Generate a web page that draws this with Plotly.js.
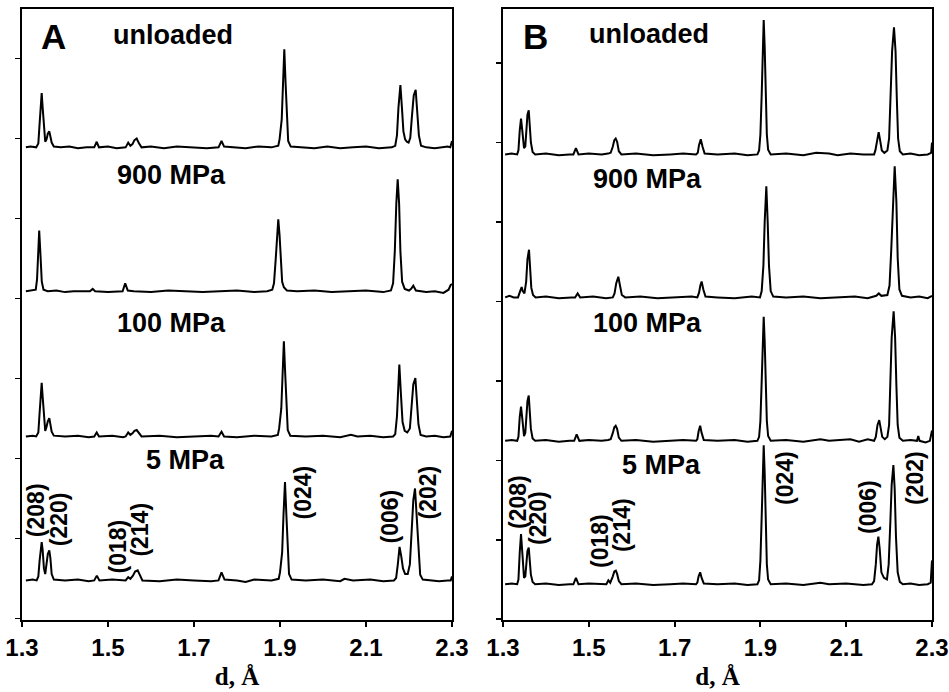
<!DOCTYPE html>
<html>
<head>
<meta charset="utf-8">
<script src="https://cdn.plot.ly/plotly-3.0.1.min.js"></script>
<style>html,body{margin:0;padding:0;background:#fff}#chart{width:949px;height:692px}</style>
</head>
<body>
<div id="chart"></div>
<script>
// ---------------- DATA ----------------
const pressureLabels = ["unloaded", "900 MPa", "100 MPa", "5 MPa"];
const panelLabels = ["A", "B"];
const millerLabels = ["(208)", "(220)", "(018)", "(214)", "(024)", "(006)", "(202)"];
const xTickVals = [1.3, 1.5, 1.7, 1.9, 2.1, 2.3];
const xTickText = ["1.3", "1.5", "1.7", "1.9", "2.1", "2.3"];
const xTitle = "d, Å";

// vertical offsets of each pattern (unloaded, 900, 100, 5 MPa)
const offsetsA = [5.89, 4.09, 2.275, 0.475];
const offsetsB = [5.85, 4.05, 2.245, 0.44];

// ---- Panel A ----
const aUnloadedX = [1.309,1.320,1.333,1.338,1.341,1.3435,1.3458,1.348,1.351,1.354,1.357,1.360,1.3635,1.366,1.369,1.374,1.390,1.410,1.430,1.450,1.468,1.4737,1.479,1.500,1.520,1.541,1.547,1.552,1.557,1.5615,1.5667,1.572,1.578,1.600,1.630,1.660,1.700,1.730,1.757,1.764,1.770,1.790,1.820,1.850,1.880,1.896,1.899,1.904,1.907,1.910,1.913,1.916,1.919,1.925,1.950,1.980,2.010,2.040,2.070,2.100,2.130,2.160,2.168,2.172,2.1755,2.180,2.1835,2.187,2.191,2.195,2.199,2.203,2.207,2.211,2.2155,2.219,2.223,2.228,2.240,2.260,2.280,2.290,2.296,2.300];
const aUnloadedY = [0.00,0.01,0.00,0.05,0.30,0.55,0.68,0.50,0.20,0.07,0.10,0.17,0.20,0.15,0.06,0.01,0.00,0.01,-0.01,0.00,0.00,0.07,0.00,0.01,-0.01,0.00,0.06,0.02,0.04,0.09,0.11,0.05,0.00,0.01,-0.01,0.01,0.00,-0.01,0.00,0.08,0.01,0.00,-0.01,0.01,0.00,0.02,0.10,0.35,0.80,1.225,0.80,0.30,0.08,0.01,0.00,-0.01,0.01,-0.01,0.00,0.01,-0.01,0.00,0.02,0.15,0.50,0.78,0.50,0.20,0.10,0.07,0.06,0.12,0.40,0.65,0.72,0.50,0.15,0.02,0.00,-0.01,0.00,0.01,0.00,0.08];

const a900X = [1.309,1.325,1.332,1.335,1.337,1.340,1.343,1.346,1.350,1.360,1.380,1.400,1.420,1.440,1.458,1.4644,1.470,1.500,1.520,1.534,1.540,1.546,1.560,1.600,1.640,1.680,1.720,1.760,1.800,1.840,1.870,1.882,1.886,1.890,1.893,1.896,1.899,1.902,1.905,1.909,1.916,1.940,1.980,2.020,2.060,2.100,2.140,2.158,2.163,2.167,2.1705,2.1737,2.177,2.180,2.184,2.190,2.200,2.205,2.210,2.216,2.240,2.260,2.280,2.292,2.297,2.300];
const a900Y = [0.00,0.01,0.02,0.15,0.45,0.76,0.45,0.12,0.02,0.00,0.01,-0.01,0.00,0.00,0.00,0.03,0.00,-0.01,0.00,0.00,0.10,0.01,0.00,-0.01,0.01,0.00,-0.01,0.00,0.01,-0.01,0.00,0.02,0.10,0.40,0.72,0.90,0.70,0.35,0.12,0.05,0.01,0.00,0.01,-0.01,0.00,0.01,-0.01,0.01,0.10,0.50,1.10,1.40,1.10,0.50,0.12,0.03,0.01,0.03,0.07,0.01,-0.01,0.00,-0.02,0.02,0.08,0.09];

const a100X = [1.309,1.325,1.333,1.338,1.341,1.3435,1.3458,1.348,1.351,1.354,1.357,1.360,1.3635,1.366,1.369,1.374,1.400,1.430,1.455,1.468,1.4737,1.479,1.510,1.535,1.541,1.547,1.552,1.557,1.5615,1.5667,1.572,1.578,1.620,1.660,1.700,1.740,1.757,1.764,1.770,1.800,1.840,1.880,1.895,1.898,1.903,1.906,1.909,1.912,1.915,1.918,1.924,1.960,2.000,2.040,2.065,2.080,2.110,2.140,2.163,2.168,2.172,2.1745,2.1775,2.181,2.185,2.190,2.196,2.202,2.206,2.210,2.2148,2.218,2.222,2.227,2.240,2.260,2.280,2.296,2.300];
const a100Y = [0.00,0.01,0.00,0.05,0.30,0.55,0.67,0.50,0.20,0.07,0.12,0.19,0.23,0.16,0.06,0.01,0.00,0.01,-0.01,0.00,0.05,0.00,0.01,-0.01,0.00,0.05,0.02,0.04,0.07,0.08,0.04,0.00,0.01,-0.01,0.00,0.01,0.00,0.06,0.00,-0.01,0.01,0.00,0.02,0.10,0.35,0.80,1.19,0.80,0.30,0.08,0.01,0.00,0.01,-0.01,0.02,0.00,0.01,-0.01,0.00,0.03,0.25,0.65,0.90,0.55,0.18,0.07,0.05,0.10,0.40,0.65,0.73,0.50,0.15,0.02,0.00,0.01,-0.01,0.00,0.07];

const a5X = [1.309,1.325,1.334,1.338,1.341,1.3435,1.3458,1.348,1.351,1.354,1.357,1.360,1.3635,1.366,1.369,1.374,1.400,1.430,1.455,1.468,1.474,1.480,1.510,1.535,1.541,1.547,1.552,1.558,1.563,1.569,1.574,1.580,1.620,1.660,1.700,1.740,1.757,1.764,1.771,1.800,1.820,1.840,1.880,1.897,1.900,1.905,1.908,1.9116,1.915,1.918,1.921,1.927,1.960,2.000,2.040,2.050,2.070,2.110,2.140,2.165,2.170,2.174,2.178,2.182,2.186,2.191,2.197,2.202,2.206,2.210,2.214,2.218,2.222,2.226,2.232,2.250,2.270,2.290,2.297,2.300];
const a5Y = [0.00,0.01,0.00,0.05,0.25,0.42,0.48,0.38,0.15,0.08,0.20,0.33,0.375,0.28,0.08,0.01,0.00,0.01,-0.01,0.00,0.06,0.00,0.01,0.00,0.00,0.04,0.02,0.06,0.11,0.125,0.06,0.00,-0.01,0.01,0.00,-0.01,0.00,0.10,0.01,0.00,-0.02,0.01,0.00,0.02,0.10,0.35,0.80,1.23,0.80,0.30,0.08,0.01,0.00,0.01,-0.01,0.02,0.00,0.01,-0.01,0.00,0.03,0.20,0.42,0.30,0.15,0.08,0.08,0.20,0.60,1.00,1.15,0.80,0.30,0.07,0.01,0.00,-0.01,0.00,0.00,0.05];

// ---- Panel B ----
const bUnloadedX = [1.305,1.320,1.333,1.336,1.339,1.342,1.345,1.349,1.352,1.355,1.357,1.360,1.362,1.365,1.369,1.375,1.400,1.430,1.455,1.464,1.470,1.476,1.500,1.530,1.545,1.551,1.556,1.5595,1.5627,1.566,1.570,1.576,1.610,1.650,1.690,1.720,1.750,1.754,1.757,1.761,1.765,1.770,1.800,1.840,1.870,1.893,1.897,1.900,1.903,1.9055,1.9077,1.910,1.912,1.915,1.918,1.924,1.960,2.000,2.030,2.060,2.080,2.110,2.140,2.165,2.168,2.172,2.1757,2.179,2.183,2.189,2.196,2.200,2.204,2.207,2.2114,2.215,2.218,2.221,2.225,2.232,2.250,2.270,2.290,2.298,2.300];
const bUnloadedY = [0.00,0.01,0.00,0.05,0.30,0.45,0.30,0.08,0.10,0.35,0.50,0.555,0.40,0.15,0.03,0.00,0.01,-0.01,0.00,0.00,0.08,0.00,0.01,0.00,0.01,0.02,0.10,0.18,0.20,0.16,0.04,0.00,0.01,-0.01,0.00,0.01,0.00,0.02,0.12,0.19,0.10,0.01,0.00,0.01,-0.01,0.00,0.05,0.25,0.75,1.35,1.69,1.35,0.75,0.25,0.06,0.00,0.01,-0.01,0.02,0.01,-0.01,0.01,0.00,0.00,0.05,0.20,0.28,0.18,0.05,0.02,0.05,0.20,0.80,1.30,1.60,1.30,0.70,0.20,0.04,0.00,0.01,-0.01,0.00,0.02,0.15];

const b900X = [1.305,1.315,1.325,1.335,1.340,1.3435,1.346,1.350,1.354,1.357,1.3606,1.363,1.366,1.370,1.376,1.400,1.430,1.460,1.468,1.474,1.480,1.510,1.540,1.556,1.560,1.564,1.5688,1.573,1.577,1.585,1.620,1.660,1.700,1.740,1.753,1.757,1.760,1.763,1.767,1.772,1.800,1.840,1.880,1.899,1.903,1.907,1.910,1.9138,1.917,1.920,1.924,1.930,1.960,2.000,2.040,2.080,2.120,2.150,2.170,2.176,2.182,2.196,2.201,2.205,2.209,2.213,2.217,2.220,2.224,2.230,2.250,2.270,2.290,2.300];
const b900Y = [0.00,0.02,0.00,0.00,0.08,0.13,0.08,0.05,0.20,0.48,0.60,0.40,0.12,0.03,0.00,0.01,-0.01,0.00,0.00,0.05,0.00,0.01,-0.01,0.00,0.05,0.18,0.26,0.14,0.03,0.00,0.01,-0.01,0.00,0.01,0.00,0.06,0.15,0.20,0.10,0.01,0.00,-0.01,0.01,0.00,0.08,0.40,0.95,1.40,0.95,0.40,0.08,0.01,0.00,0.01,-0.01,0.00,0.01,-0.01,0.02,0.05,0.02,0.03,0.15,0.60,1.25,1.65,1.20,0.50,0.10,0.02,0.00,0.01,-0.01,0.02];

const b100X = [1.305,1.320,1.333,1.336,1.339,1.342,1.345,1.349,1.352,1.355,1.357,1.360,1.362,1.365,1.369,1.375,1.400,1.430,1.455,1.466,1.4717,1.478,1.500,1.530,1.545,1.551,1.556,1.5595,1.5627,1.566,1.570,1.576,1.610,1.650,1.690,1.720,1.750,1.753,1.756,1.7596,1.763,1.768,1.800,1.840,1.870,1.893,1.897,1.900,1.903,1.9055,1.9077,1.910,1.912,1.915,1.918,1.924,1.960,2.000,2.040,2.060,2.110,2.130,2.150,2.165,2.169,2.173,2.177,2.180,2.184,2.190,2.196,2.200,2.203,2.206,2.2106,2.214,2.217,2.220,2.224,2.232,2.250,2.265,2.268,2.271,2.285,2.295,2.300];
const b100Y = [0.00,0.01,0.00,0.05,0.30,0.43,0.28,0.06,0.10,0.35,0.50,0.57,0.40,0.15,0.03,0.00,0.01,-0.01,0.00,0.00,0.08,0.00,0.01,0.00,0.01,0.02,0.10,0.17,0.19,0.15,0.04,0.00,0.01,-0.01,0.00,0.01,0.00,0.02,0.12,0.19,0.10,0.01,0.00,0.01,-0.01,0.00,0.05,0.25,0.75,1.25,1.56,1.25,0.75,0.25,0.06,0.00,0.01,-0.01,0.02,0.00,0.02,-0.01,0.02,0.00,0.05,0.20,0.26,0.18,0.05,0.02,0.05,0.20,0.80,1.30,1.63,1.30,0.70,0.20,0.04,0.00,0.01,0.00,0.06,0.00,-0.02,0.00,0.13];

const b5X = [1.305,1.320,1.333,1.336,1.339,1.342,1.345,1.349,1.352,1.355,1.357,1.360,1.362,1.365,1.369,1.375,1.400,1.430,1.455,1.464,1.470,1.476,1.500,1.530,1.541,1.5456,1.550,1.556,1.5595,1.563,1.566,1.570,1.576,1.610,1.650,1.690,1.720,1.750,1.753,1.756,1.7596,1.763,1.768,1.800,1.840,1.870,1.893,1.897,1.900,1.903,1.9055,1.9077,1.910,1.912,1.915,1.918,1.924,1.960,2.000,2.040,2.060,2.100,2.140,2.160,2.165,2.169,2.172,2.175,2.178,2.182,2.188,2.195,2.199,2.203,2.206,2.210,2.213,2.216,2.220,2.225,2.232,2.250,2.270,2.290,2.297,2.300];
const b5Y = [0.00,0.01,0.00,0.06,0.40,0.63,0.40,0.08,0.10,0.30,0.42,0.46,0.33,0.12,0.03,0.00,0.01,-0.01,0.00,0.00,0.08,0.00,0.01,0.00,0.00,0.05,0.02,0.10,0.16,0.17,0.13,0.04,0.00,0.01,-0.01,0.00,0.01,0.00,0.02,0.10,0.15,0.08,0.01,0.00,0.01,-0.01,0.00,0.05,0.30,0.85,1.40,1.75,1.40,0.80,0.25,0.06,0.00,0.01,-0.01,0.02,0.00,0.01,-0.01,0.00,0.04,0.25,0.50,0.60,0.45,0.15,0.08,0.06,0.25,0.80,1.25,1.50,1.20,0.60,0.15,0.03,0.00,0.01,-0.01,0.00,0.02,0.30];

// ---------------- CHART ----------------
const seriesA = [[aUnloadedX, aUnloadedY], [a900X, a900Y], [a100X, a100Y], [a5X, a5Y]];
const seriesB = [[bUnloadedX, bUnloadedY], [b900X, b900Y], [b100X, b100Y], [b5X, b5Y]];

const lineStyle = {color: "#000", width: 2};
const traces = [];
seriesA.forEach((s, i) => {
  traces.push({x: s[0], y: s[1].map(v => v + offsetsA[i]), type: "scatter", mode: "lines",
    line: lineStyle, xaxis: "x", yaxis: "y", hoverinfo: "skip", name: "A " + pressureLabels[i]});
});
seriesB.forEach((s, i) => {
  traces.push({x: s[0], y: s[1].map(v => v + offsetsB[i]), type: "scatter", mode: "lines",
    line: lineStyle, xaxis: "x2", yaxis: "y2", hoverinfo: "skip", name: "B " + pressureLabels[i]});
});

const FONT = "Liberation Sans, Arial, sans-serif";
const SERIF = "Liberation Serif, Times New Roman, serif";
const W = 949, H = 692;

function xAxisCfg(domain, anchor) {
  return {
    domain: domain, anchor: anchor, range: [1.3, 2.3],
    showline: true, mirror: true, linecolor: "#000", linewidth: 2,
    ticks: "outside", ticklen: 5, tickwidth: 2, tickcolor: "#000",
    tickvals: xTickVals, ticktext: xTickText,
    tickfont: {family: FONT, size: 24, color: "#000", weight: "bold"},
    showgrid: false, zeroline: false,
    title: {text: xTitle, font: {family: SERIF, size: 25, color: "#000", weight: "bold"}, standoff: 8}
  };
}
function yAxisCfg(range, anchor) {
  return {
    domain: [(H - 620) / H, (H - 9) / H], anchor: anchor, range: range,
    showline: true, mirror: true, linecolor: "#000", linewidth: 2,
    ticks: "outside", ticklen: 5, tickwidth: 1.5, tickcolor: "#000",
    tick0: 0, dtick: 1, showticklabels: false,
    showgrid: false, zeroline: false
  };
}

const annotations = [];
function txt(text, x, y, xref, yref, size, angle) {
  annotations.push({text: text, x: x, y: y, xref: xref, yref: yref, showarrow: false,
    xanchor: "center", yanchor: "middle", textangle: angle || 0,
    font: {family: FONT, size: size, color: "#000", weight: "bold"}});
}
// panel letters
txt(panelLabels[0], 1.3744, 7.28, "x", "y", 35);
txt(panelLabels[1], 1.3746, 7.33, "x2", "y2", 35);
// pressure labels
const presPosA = [[1.651, 7.30], [1.6465, 5.54], [1.6465, 3.69], [1.681, 1.975]];
const presPosB = [[1.6392, 7.36], [1.6357, 5.54], [1.6357, 3.73], [1.6695, 1.94]];
pressureLabels.forEach((t, i) => {
  txt(t, presPosA[i][0], presPosA[i][1], "x", "y", 27);
  txt(t, presPosB[i][0], presPosB[i][1], "x2", "y2", 27);
});
// Miller indices (rotated)
const millerPosA = [[1.3342, 1.35], [1.386, 1.24], [1.5233, 0.90], [1.5744, 1.11], [1.9535, 1.575], [2.1558, 1.275], [2.2442, 1.575]];
const millerPosB = [[1.335, 1.475], [1.3816, 1.274], [1.5261, 0.984], [1.5774, 1.185], [1.9573, 1.778], [2.1508, 1.412], [2.2604, 1.778]];
millerLabels.forEach((t, i) => {
  txt(t, millerPosA[i][0], millerPosA[i][1], "x", "y", 23, -90);
  txt(t, millerPosB[i][0], millerPosB[i][1], "x2", "y2", 23, -90);
});

const layout = {
  width: W, height: H,
  margin: {l: 0, r: 0, t: 0, b: 0},
  paper_bgcolor: "#fff", plot_bgcolor: "#fff",
  showlegend: false,
  xaxis: xAxisCfg([22 / W, 452 / W], "y"),
  yaxis: yAxisCfg([-0.02, 7.62], "x"),
  xaxis2: xAxisCfg([503 / W, 932 / W], "y2"),
  yaxis2: yAxisCfg([-0.01, 7.68], "x2"),
  annotations: annotations
};

Plotly.newPlot("chart", traces, layout, {displayModeBar: false, staticPlot: true});
</script>
</body>
</html>
